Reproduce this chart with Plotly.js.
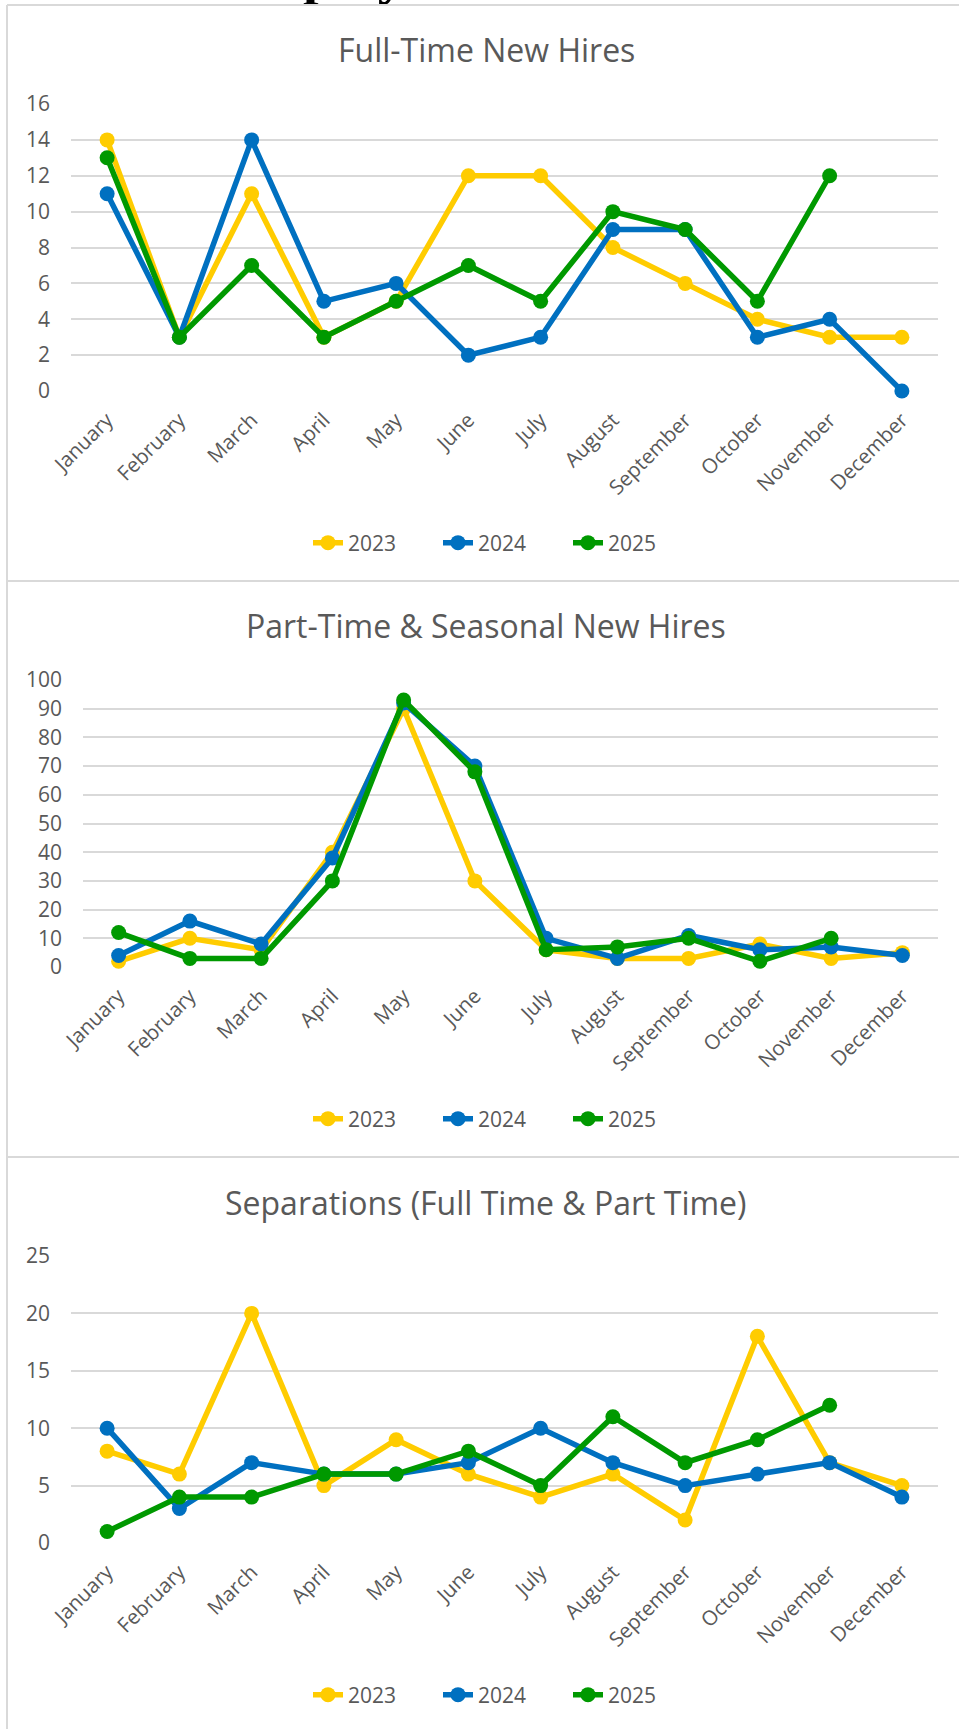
<!DOCTYPE html>
<html><head><meta charset="utf-8">
<script src="https://cdn.plot.ly/plotly-3.0.1.min.js"></script>
<style>
html,body{margin:0;padding:0;background:#fff;overflow:hidden;width:959px;height:1729px;}
#hdr{position:absolute;left:0;top:0;}
#chart{position:absolute;left:0;top:0;width:959px;height:1729px;}
</style></head><body>
<svg id="hdr" width="959" height="12"><text x="219" y="-7" font-family="'Liberation Serif','Times New Roman',serif" font-weight="bold" font-size="56" fill="#000">Employment</text></svg>
<div id="chart"></div>
<script>
// ---- data ----
var months = ['January','February','March','April','May','June','July','August','September','October','November','December'];
var years = ['2023','2024','2025'];

var fullTime2023 = [14,3,11,3,5,12,12,8,6,4,3,3];
var fullTime2024 = [11,3,14,5,6,2,3,9,9,3,4,0];
var fullTime2025 = [13,3,7,3,5,7,5,10,9,5,12];

var partTime2023 = [2,10,6,40,90,30,6,3,3,8,3,5];
var partTime2024 = [4,16,8,38,92,70,10,3,11,6,7,4];
var partTime2025 = [12,3,3,30,93,68,6,7,10,2,10];

var separations2023 = [8,6,20,5,9,6,4,6,2,18,7,5];
var separations2024 = [10,3,7,6,6,7,10,7,5,6,7,4];
var separations2025 = [1,4,4,6,6,8,5,11,7,9,12];

var chartTitles = ['Full-Time New Hires','Part-Time & Seasonal New Hires','Separations (Full Time & Part Time)'];
var yTickStep = [2,10,5];
var yMax = [16,100,25];

// ---- styling ----
var FONT = '"Open Sans", "Noto Sans", sans-serif';
var TXT = '#595959';
var GRID = '#d9d9d9';
var colors = ['#FFCC00','#0070C0','#009900'];
var W = 959, H = 1729;
function px(x){return x/W;}
function py(y){return 1 - y/H;}

var seriesSets = [
  [fullTime2023, fullTime2024, fullTime2025],
  [partTime2023, partTime2024, partTime2025],
  [separations2023, separations2024, separations2025]
];
var plotBoxes = [
  {l:71, r:938, t:104, b:391, title:50, legend:543},
  {l:83, r:938, t:680, b:967, title:625, legend:1119},
  {l:71, r:938, t:1256, b:1543, title:1202, legend:1695}
];

var data = [];
var layout = {
  width: W, height: H,
  margin: {l:0, r:0, t:0, b:0},
  paper_bgcolor: 'rgba(0,0,0,0)',
  plot_bgcolor: 'rgba(0,0,0,0)',
  font: {family: FONT, color: TXT},
  showlegend: true,
  annotations: [],
  shapes: []
};

for (var c = 0; c < 3; c++) {
  var sfx = c === 0 ? '' : String(c+1);
  var box = plotBoxes[c];
  for (var s = 0; s < 3; s++) {
    var vals = seriesSets[c][s];
    data.push({
      type: 'scatter', mode: 'lines+markers',
      x: months.slice(0, vals.length), y: vals,
      name: years[s],
      xaxis: 'x' + sfx, yaxis: 'y' + sfx,
      legend: 'legend' + sfx,
      line: {color: colors[s], width: 5.5},
      marker: {color: colors[s], size: 15},
      cliponaxis: false,
      hoverinfo: 'skip'
    });
  }
  layout['xaxis' + sfx] = {
    domain: [px(box.l), px(box.r)], anchor: 'y' + sfx,
    type: 'category', categoryorder: 'array', categoryarray: months,
    range: [-0.5, 11.5], tickangle: -45,
    showgrid: false, zeroline: false, showline: false, ticks: '',
    ticklabelstandoff: 12,
    tickfont: {family: FONT, size: 20.5, color: TXT}, fixedrange: true
  };
  layout['yaxis' + sfx] = {
    domain: [py(box.b), py(box.t)], anchor: 'x' + sfx,
    range: [0, yMax[c]], dtick: yTickStep[c], tick0: 0,
    showgrid: true, gridcolor: GRID, gridwidth: 2,
    zeroline: false, showline: false, ticks: '',
    ticklabelstandoff: 20,
    tickfont: {family: FONT, size: 21, color: TXT}, fixedrange: true
  };
  layout['legend' + sfx] = {
    orientation: 'h', x: px(503), y: py(box.legend),
    xanchor: 'center', yanchor: 'middle',
    font: {family: FONT, size: 21, color: TXT},
    bgcolor: 'rgba(0,0,0,0)', traceorder: 'normal',
    itemwidth: 30, entrywidth: 85, entrywidthmode: 'pixels'
  };
  layout.annotations.push({
    text: chartTitles[c], xref: 'paper', yref: 'paper',
    x: px(486), y: py(box.title), xanchor: 'center', yanchor: 'middle',
    showarrow: false, font: {family: FONT, size: 32, color: TXT}
  });
}

// frame lines
function hline(y){ return {type:'line', xref:'paper', yref:'paper', x0:px(7), x1:1, y0:py(y), y1:py(y), line:{color:GRID, width:2}, layer:'below'}; }
layout.shapes.push(hline(5), hline(581), hline(1157));
layout.shapes.push({type:'line', xref:'paper', yref:'paper', x0:px(7), x1:px(7), y0:py(5), y1:0, line:{color:GRID, width:2}, layer:'below'});

Plotly.newPlot('chart', data, layout, {staticPlot: true, displayModeBar: false});
</script>
</body></html>
